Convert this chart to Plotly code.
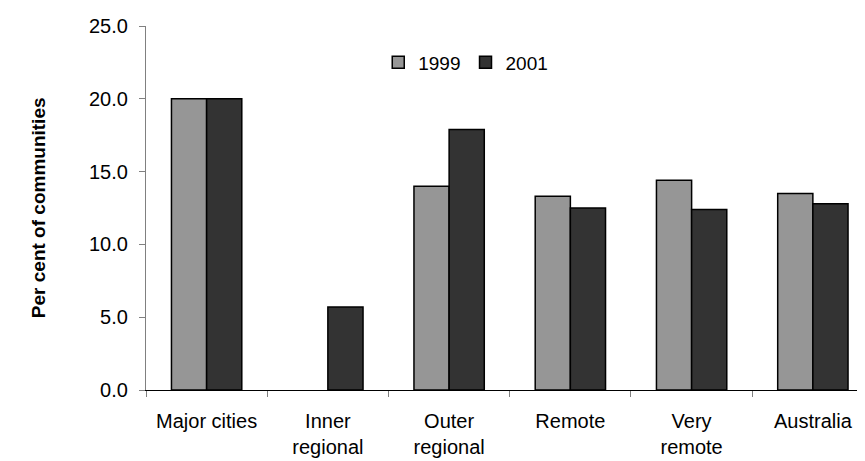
import plotly.graph_objects as go

categories = ["Major cities", "Inner<br>regional", "Outer<br>regional", "Remote", "Very<br>remote", "Australia"]
values_1999 = [20.0, None, 14.0, 13.3, 14.4, 13.5]
values_2001 = [20.0, 5.7, 17.9, 12.5, 12.4, 12.8]
y_ticks = [0, 5, 10, 15, 20, 25]

FONT = "Liberation Sans, Arial, sans-serif"

fig = go.Figure()
fig.add_trace(go.Bar(name="1999", x=categories, y=values_1999,
                     marker=dict(color="#969696", line=dict(color="black", width=1.5))))
fig.add_trace(go.Bar(name="2001", x=categories, y=values_2001,
                     marker=dict(color="#333333", line=dict(color="black", width=1.5))))

fig.update_layout(
    width=857, height=453,
    margin=dict(l=138, r=0, t=18, b=71),
    paper_bgcolor="white", plot_bgcolor="white",
    barmode="group", bargap=0.42, bargroupgap=0,
    font=dict(family=FONT, size=20, color="black"),
    showlegend=True,
    legend=dict(orientation="h", x=0.323, y=0.90, xanchor="left", yanchor="middle",
                font=dict(size=19), bgcolor="rgba(0,0,0,0)", itemwidth=30, tracegroupgap=0),
    annotations=[dict(text="<b>Per cent of communities</b>", xref="paper", yref="paper",
                      x=-0.150, y=0.5, textangle=-90, showarrow=False,
                      font=dict(size=19, family=FONT), xanchor="center", yanchor="middle")],
)
fig.update_xaxes(
    range=[-0.5, 5.43], showline=True, linecolor="black", linewidth=1.2,
    ticks="outside", tickson="boundaries", ticklen=6, tickcolor="#808080",
    ticklabelstandoff=13,
    showgrid=False, zeroline=False, fixedrange=True,
)
fig.update_yaxes(
    range=[0, 25], tickvals=y_ticks, tickformat=".1f",
    showline=True, linecolor="#808080", linewidth=1.2,
    ticks="outside", ticklen=6, tickcolor="#808080", ticklabelstandoff=7,
    showgrid=False, zeroline=False, fixedrange=True,
)

fig.write_html("out.html")
